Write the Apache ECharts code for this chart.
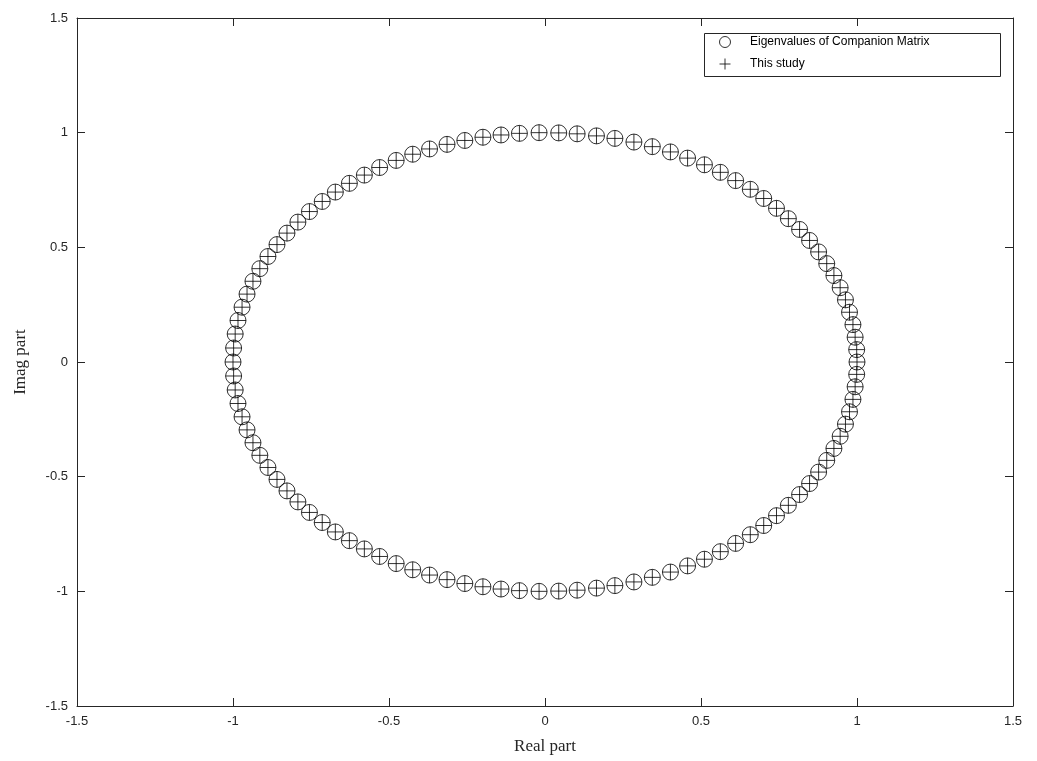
<!DOCTYPE html>
<html><head><meta charset="utf-8">
<script src="https://cdn.jsdelivr.net/npm/echarts@6/dist/echarts.min.js"></script>
<style>html,body{margin:0;padding:0;background:#fff}#c{width:1037px;height:761px}</style>
</head><body><div id="c"></div>
<script>
var xTicks = [-1.5, -1, -0.5, 0, 0.5, 1, 1.5];
var yTicks = [-1.5, -1, -0.5, 0, 0.5, 1, 1.5];
var seriesNames = ['Eigenvalues of Companion Matrix', 'This study'];
// eigenvalues, upper half then lower half
var eigRe = [1.000, 0.999, 0.994, 0.987, 0.976, 0.963, 0.946, 0.926, 0.903, 0.877, 0.848, 0.816, 0.780, 0.742, 0.701, 0.658, 0.611, 0.562, 0.511, 0.457, 0.402, 0.344, 0.285, 0.224, 0.165, 0.103, 0.044, -0.019, -0.082, -0.141, -0.199, -0.257, -0.314, -0.370, -0.424, -0.477, -0.530, -0.579, -0.627, -0.672, -0.714, -0.755, -0.792, -0.827, -0.859, -0.888, -0.914, -0.936, -0.955, -0.971, -0.984, -0.993, -0.998, -1.000,
  -0.998, -0.993, -0.984, -0.971, -0.955, -0.936, -0.914, -0.888, -0.859, -0.827, -0.792, -0.755, -0.714, -0.672, -0.627, -0.579, -0.530, -0.477, -0.424, -0.370, -0.314, -0.257, -0.199, -0.141, -0.082, -0.019, 0.044, 0.103, 0.165, 0.224, 0.285, 0.344, 0.402, 0.457, 0.511, 0.562, 0.611, 0.658, 0.701, 0.742, 0.780, 0.816, 0.848, 0.877, 0.903, 0.926, 0.946, 0.963, 0.976, 0.987, 0.994, 0.999];
var eigIm = [0, 0.054, 0.108, 0.163, 0.217, 0.271, 0.324, 0.377, 0.429, 0.480, 0.530, 0.578, 0.625, 0.670, 0.713, 0.753, 0.791, 0.827, 0.860, 0.889, 0.916, 0.939, 0.959, 0.975, 0.986, 0.995, 0.999, 1.000, 0.997, 0.990, 0.980, 0.966, 0.949, 0.929, 0.906, 0.879, 0.848, 0.815, 0.779, 0.741, 0.700, 0.656, 0.610, 0.562, 0.512, 0.460, 0.407, 0.352, 0.296, 0.239, 0.181, 0.122, 0.061, 0,
  -0.061, -0.122, -0.181, -0.239, -0.296, -0.352, -0.407, -0.460, -0.512, -0.562, -0.610, -0.656, -0.700, -0.741, -0.779, -0.815, -0.848, -0.879, -0.906, -0.929, -0.949, -0.966, -0.980, -0.990, -0.997, -1.000, -0.999, -0.995, -0.986, -0.975, -0.959, -0.939, -0.916, -0.889, -0.860, -0.827, -0.791, -0.753, -0.713, -0.670, -0.625, -0.578, -0.530, -0.480, -0.429, -0.377, -0.324, -0.271, -0.217, -0.163, -0.108, -0.054];
// roots found by this study (coincide with the eigenvalues)
var studyRe = eigRe;
var studyIm = eigIm;

function pairs(a, b) { var o = []; for (var i = 0; i < a.length; i++) o.push([a[i], b[i]]); return o; }
var plusPath = 'path://M0,5L10,5M5,0L5,10';
var tickFmt = function (v) { return String(v); };
var lblStyle = { color: '#262626', fontFamily: 'Liberation Sans, Arial, sans-serif', fontSize: 13 };
var axisLineStyle = { show: true, onZero: false, lineStyle: { color: '#262626', width: 1 } };
var tickStyle = { show: true, inside: true, length: 8, lineStyle: { color: '#262626', width: 1 } };

var chart = echarts.init(document.getElementById('c'), null, { renderer: 'canvas' });
chart.setOption({
  animation: false,
  backgroundColor: '#fff',
  grid: { left: 77, top: 18, width: 936, height: 688, containLabel: false },
  xAxis: [
    { type: 'value', min: xTicks[0], max: xTicks[xTicks.length - 1], interval: 0.5, position: 'bottom',
      name: 'Real part', nameLocation: 'middle', nameGap: 32,
      nameTextStyle: { fontFamily: 'Liberation Serif, Times New Roman, serif', fontSize: 17, color: '#262626' },
      axisLine: axisLineStyle, axisTick: tickStyle, splitLine: { show: false },
      axisLabel: Object.assign({ margin: 9, formatter: tickFmt }, lblStyle) },
    { type: 'value', min: xTicks[0], max: xTicks[xTicks.length - 1], interval: 0.5, position: 'top',
      axisLine: axisLineStyle, axisTick: tickStyle, splitLine: { show: false }, axisLabel: { show: false } }
  ],
  yAxis: [
    { type: 'value', min: yTicks[0], max: yTicks[yTicks.length - 1], interval: 0.5, position: 'left',
      name: 'Imag part', nameLocation: 'middle', nameGap: 48, nameRotate: 90,
      nameTextStyle: { fontFamily: 'Liberation Serif, Times New Roman, serif', fontSize: 17, color: '#262626' },
      axisLine: axisLineStyle, axisTick: tickStyle, splitLine: { show: false },
      axisLabel: Object.assign({ margin: 9, formatter: tickFmt }, lblStyle) },
    { type: 'value', min: yTicks[0], max: yTicks[yTicks.length - 1], interval: 0.5, position: 'right',
      axisLine: axisLineStyle, axisTick: tickStyle, splitLine: { show: false }, axisLabel: { show: false } }
  ],
  graphic: [
    { type: 'rect', left: 704, top: 33, shape: { width: 296, height: 43 }, z: 10,
      style: { fill: '#fff', stroke: '#262626', lineWidth: 1 } }
  ],
  legend: {
    orient: 'vertical', left: 719, top: 36, itemWidth: 40, itemHeight: 11, itemGap: 10, z: 20,
    padding: 0,
    textStyle: { fontFamily: 'Liberation Sans, Arial, sans-serif', fontSize: 12, color: '#000' },
    data: [
      { name: seriesNames[0], icon: 'circle', itemStyle: { color: 'rgba(0,0,0,0)', borderColor: '#000', borderWidth: 1 } },
      { name: seriesNames[1], icon: plusPath, itemStyle: { color: 'rgba(0,0,0,0)', borderColor: '#000', borderWidth: 1 } }
    ]
  },
  series: [
    { name: seriesNames[0], type: 'scatter', symbol: 'circle', symbolSize: 16,
      itemStyle: { color: 'rgba(0,0,0,0)', borderColor: '#000', borderWidth: 1 },
      data: pairs(eigRe, eigIm) },
    { name: seriesNames[1], type: 'scatter', symbol: plusPath, symbolSize: 16,
      itemStyle: { color: 'rgba(0,0,0,0)', borderColor: '#000', borderWidth: 1 },
      data: pairs(studyRe, studyIm) }
  ]
});
</script></body></html>
